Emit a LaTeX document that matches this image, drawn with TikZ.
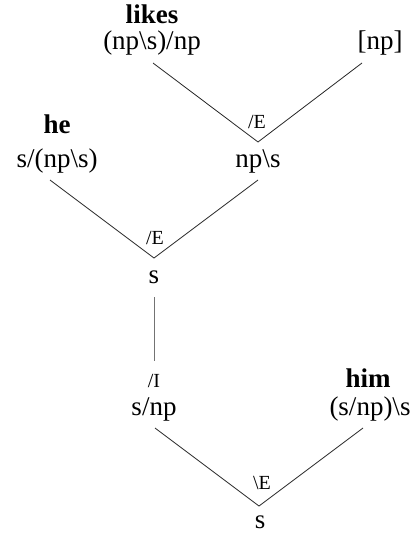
\documentclass[tikz,border=0pt]{standalone}
\usepackage{fontspec}
\setmainfont{Liberation Serif}
\begin{document}
\begin{tikzpicture}[x=1pt,y=-1pt,
  lbl/.style={inner sep=0pt,anchor=base,font=\fontsize{27}{30}\selectfont},
  wrd/.style={inner sep=0pt,anchor=base,font=\fontsize{27}{30}\selectfont\bfseries},
  rule/.style={inner sep=0pt,anchor=base,font=\fontsize{20}{22}\selectfont},
  edge/.style={line width=0.8pt,black!85},
  vedge/.style={line width=0.8pt,black!55}]
\useasboundingbox (0,0) rectangle (417,535);
% texts
\node[wrd] (likes) at (152,24) {likes};
\node[lbl] (likest) at (152,50) {(np\textbackslash s)/np};
\node[lbl] (hyp) at (380,50) {[np]};
\node[rule] (r1) at (257,128) {/E};
\node[lbl] (vp) at (258,167) {np\textbackslash s};
\node[wrd] (he) at (57,133) {he};
\node[lbl] (het) at (57,167) {s/(np\textbackslash s)};
\node[rule] (r2) at (155,244) {/E};
\node[lbl] (s1) at (154,283) {s};
\node[rule] (r3) at (154,387) {/I};
\node[lbl] (snp) at (154,415) {s/np};
\node[wrd] (him) at (368,387) {him};
\node[lbl] (himt) at (370,415) {(s/np)\textbackslash s};
\node[rule] (r4) at (262,489) {\textbackslash E};
\node[lbl] (s2) at (260,528) {s};
% line ends
\coordinate (a1) at (153,63);
\coordinate (a2) at (362,63);
\coordinate (a3) at (258,142);
\coordinate (b1) at (50,180);
\coordinate (b2) at (258,180);
\coordinate (b3) at (154,258);
\coordinate (c1) at (154,297);
\coordinate (c2) at (154,361);
\coordinate (d1) at (155,428);
\coordinate (d2) at (363,428);
\coordinate (d3) at (259,506);
% connectors
\draw[edge] (a1) -- (a3) -- (a2);
\draw[edge] (b1) -- (b3) -- (b2);
\draw[vedge] (c1) -- (c2);
\draw[edge] (d1) -- (d3) -- (d2);
\end{tikzpicture}
\end{document}
